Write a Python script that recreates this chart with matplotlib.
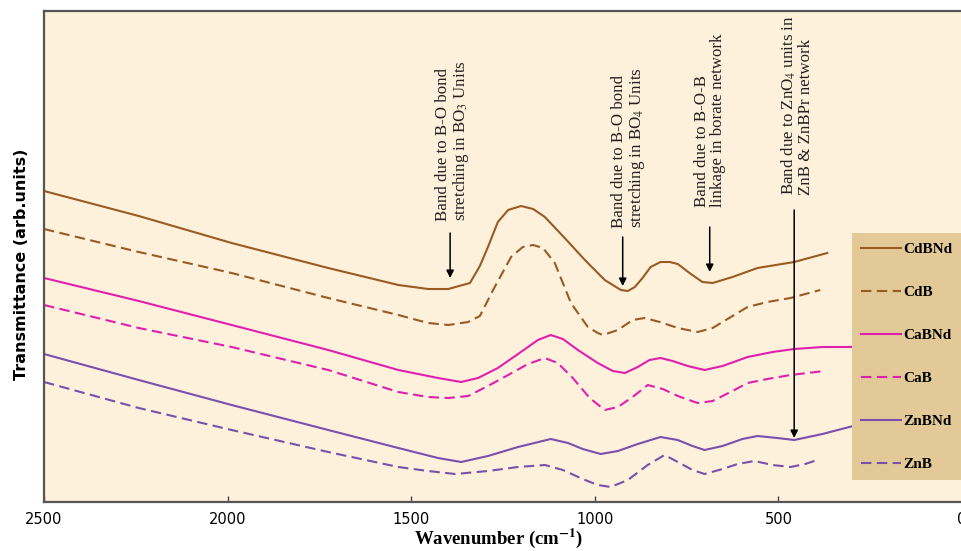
import matplotlib
matplotlib.use("Agg")
import matplotlib.pyplot as plt

# ---- data (wavenumber in cm^-1, transmittance in arb. units) ----
cdbnd_wn = [2500, 2242, 1989, 1726, 1535, 1454, 1399, 1340, 1313, 1291, 1264, 1236, 1201, 1168, 1136,
            1082, 1027, 973, 929, 910, 891, 870, 848, 821, 796, 774, 742, 707, 679, 625, 557, 457, 367]
cdbnd_t = [311, 286, 259, 234, 217, 213, 213, 219, 236, 255, 280, 292, 296, 293, 285,
           264, 242, 222, 212, 211, 215, 224, 235, 240, 240, 238, 229, 220, 219, 225, 234, 240, 249]

cdb_wn = [2500, 2242, 1989, 1726, 1535, 1454, 1399, 1345, 1313, 1277, 1228, 1196, 1168, 1141, 1109,
          1065, 1019, 992, 978, 937, 897, 864, 823, 774, 720, 679, 625, 584, 530, 467, 386]
cdb_t = [273, 250, 229, 204, 187, 179, 177, 180, 186, 212, 245, 255, 257, 254, 239,
         199, 175, 169, 167, 172, 182, 184, 180, 174, 170, 174, 186, 195, 200, 204, 212]

cabnd_wn = [2500, 2242, 1989, 1726, 1535, 1427, 1364, 1318, 1264, 1209, 1155, 1120, 1087, 1046, 992,
            951, 918, 883, 851, 821, 788, 747, 701, 652, 584, 516, 457, 380, 307, 231]
cabnd_t = [224, 201, 177, 152, 132, 124, 120, 124, 134, 148, 162, 167, 163, 152, 139,
           131, 129, 135, 142, 144, 141, 136, 132, 136, 145, 150, 153, 155, 155, 156]

cab_wn = [2500, 2242, 1989, 1726, 1535, 1454, 1399, 1345, 1291, 1236, 1182, 1136, 1101, 1060, 1014,
          973, 937, 897, 856, 815, 774, 720, 679, 625, 584, 530, 467, 375]
cab_t = [197, 174, 155, 132, 110, 105, 104, 106, 116, 127, 138, 144, 139, 124, 104,
         92, 95, 105, 117, 113, 106, 99, 101, 111, 119, 123, 127, 131]

znbnd_wn = [2500, 2242, 1989, 1726, 1535, 1427, 1364, 1291, 1209, 1120, 1073, 1033, 984, 937, 883,
            821, 774, 734, 701, 652, 598, 557, 503, 457, 380, 307, 231]
znbnd_t = [148, 122, 97, 72, 54, 44, 40, 46, 55, 63, 59, 53, 48, 51, 58,
           65, 62, 56, 52, 56, 63, 66, 64, 62, 68, 75, 82]

znb_wn = [2500, 2242, 1989, 1726, 1535, 1454, 1380, 1291, 1209, 1136, 1087, 1033, 992, 957, 910,
          856, 810, 774, 734, 701, 652, 611, 565, 516, 467, 427, 394]
znb_t = [120, 94, 72, 50, 35, 31, 28, 31, 35, 37, 32, 23, 17, 15, 22,
         37, 47, 40, 32, 28, 33, 38, 41, 37, 35, 38, 42]

labels = ["CdBNd", "CdB", "CaBNd", "CaB", "ZnBNd", "ZnB"]
xticks = [2500, 2000, 1500, 1000, 500, 0]

# annotations: text, text anchor (wn, t), arrow x, arrow start t, arrow end t
ann_texts = ["Band due to B-O bond\nstretching in BO$_3$ Units",
             "Band due to B-O bond\nstretching in BO$_4$ Units",
             "Band due to B-O-B\nlinkage in borate network",
             "Band due to ZnO$_4$ units in\nZnB & ZnBPr network"]
ann_text_x = [1386, 908, 685, 451]
ann_text_y = [281, 274, 295, 307]
ann_arrow_x = [1394, 924, 687, 457]
ann_arrow_y0 = [269, 265, 275, 292]
ann_arrow_y1 = [224, 216, 230, 64]

# ---- style ----
plt.rcParams['mathtext.fontset'] = 'stix'
brown = '#9B5A22'
magenta = '#E01FB0'
purple = '#7A4FAE'
serif = 'Liberation Serif'

fig = plt.figure(figsize=(9.62, 5.51), dpi=100)
fig.patch.set_facecolor('white')
ax = fig.add_axes([44 / 962, 49 / 551, 1 - 44 / 962, 491 / 551])
ax.set_facecolor('#FDF1DB')

series = [(cdbnd_wn, cdbnd_t, brown, '-'),
          (cdb_wn, cdb_t, brown, '--'),
          (cabnd_wn, cabnd_t, magenta, '-'),
          (cab_wn, cab_t, magenta, '--'),
          (znbnd_wn, znbnd_t, purple, '-'),
          (znb_wn, znb_t, purple, '--')]
for (wn, t, c, ls), lab in zip(series, labels):
    kw = dict(color=c, lw=1.5, label=lab, solid_joinstyle='round', dash_joinstyle='round')
    if ls == '--':
        ax.plot(wn, t, linestyle=(0, (5, 2.6)), **kw)
    else:
        ax.plot(wn, t, linestyle='-', **kw)

ax.set_xlim(2500, 0)
ax.set_ylim(0, 491)
ax.set_xticks(xticks)
ax.set_xticklabels([str(v) for v in xticks], fontsize=10.5, family='DejaVu Sans')
ax.tick_params(axis='x', direction='in', length=4, width=1, color='#444', pad=7)
ax.set_yticks([])
for s in ['left', 'bottom', 'top']:
    ax.spines[s].set_color('#555555')
    ax.spines[s].set_linewidth(1.6)
ax.spines['right'].set_visible(False)

ax.set_xlabel('Wavenumber (cm$^{\\mathbf{-1}}$)', family=serif, fontweight='bold', fontsize=13.5, labelpad=0)
ax.xaxis.set_label_coords(0.495, -0.05)
ax.set_ylabel('Transmittance (arb.units)', family='DejaVu Sans', fontweight='bold', fontsize=11.5)
ax.yaxis.set_label_coords(-0.016, 0.485)

for txt, tx, ty, axx, ay0, ay1 in zip(ann_texts, ann_text_x, ann_text_y, ann_arrow_x, ann_arrow_y0, ann_arrow_y1):
    ax.text(tx, ty, txt, rotation=90, rotation_mode='anchor', ha='left', va='center',
            multialignment='left', family=serif, fontsize=12.2, linespacing=1.0, color='#222')
    ax.annotate('', xy=(axx, ay1), xytext=(axx, ay0),
                arrowprops=dict(arrowstyle='-|>', color='black', lw=1.1, mutation_scale=11,
                                shrinkA=0, shrinkB=0))

leg = ax.legend(loc='upper left', bbox_to_anchor=(852 / 962, 1 - 233 / 551), bbox_transform=fig.transFigure,
                borderaxespad=0, frameon=True, fancybox=False, framealpha=1,
                facecolor='#E2C997', edgecolor='none', handlelength=2.6, handletextpad=0.15,
                labelspacing=1.92, borderpad=0.6,
                prop={'family': serif, 'weight': 'bold', 'size': 11})
leg.get_frame().set_linewidth(0)

fig.savefig('out.png', dpi=100)
